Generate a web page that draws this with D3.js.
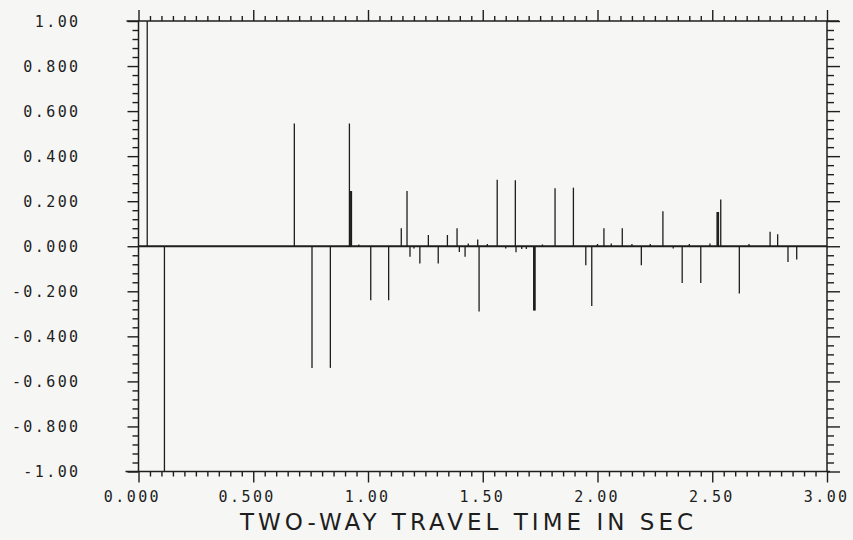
<!DOCTYPE html>
<html>
<head>
<meta charset="utf-8">
<script src="https://cdn.jsdelivr.net/npm/d3@7"></script>
<style>
  body { margin: 0; background: #f6f6f4; }
  svg { display: block; }
</style>
</head>
<body>
<svg id="chart"></svg>
<script>
// spike arrival times (sec) and reflection amplitudes
const spikeTimes = [0.038, 0.113, 0.679, 0.756, 0.836, 0.919, 0.922, 0.925, 0.928,
    1.012, 1.090, 1.145, 1.170, 1.183, 1.226, 1.263, 1.306, 1.346, 1.388, 1.398,
    1.423, 1.437, 1.478, 1.484, 1.563, 1.642, 1.645, 1.722, 1.725, 1.728, 1.815,
    1.895, 1.949, 1.975, 2.028, 2.108, 2.191, 2.285, 2.369, 2.450, 2.521, 2.524,
    2.527, 2.537, 2.618, 2.752, 2.785, 2.830, 2.868];
const spikeAmps = [1.00, -1.00, 0.545, -0.540, -0.540, 0.545, 0.245, 0.245, 0.245,
    -0.240, -0.240, 0.080, 0.245, -0.047, -0.077, 0.050, -0.077, 0.050, 0.080, -0.025,
    -0.047, 0.012, 0.030, -0.290, 0.295, 0.293, -0.027, -0.285, -0.285, -0.285, 0.258,
    0.260, -0.084, -0.265, 0.080, 0.080, -0.084, 0.155, -0.163, -0.163, 0.152, 0.152,
    0.152, 0.207, -0.210, 0.064, 0.053, -0.070, -0.059];
// low-level ripple along the baseline
const rippleTimes = [0.960, 1.200, 1.520, 1.600, 1.670, 1.690, 1.760, 2.000, 2.060,
    2.150, 2.230, 2.330, 2.400, 2.490, 2.660];
const rippleAmps = [0.008, -0.010, 0.010, -0.010, -0.012, -0.012, 0.008, 0.010, 0.012,
    0.010, 0.010, -0.010, 0.010, 0.012, 0.010];

const xMajor = [0, 0.5, 1.0, 1.5, 2.0, 2.5, 3.0];
const xTickLabels = ['0.000', '0.500', '1.00', '1.50', '2.00', '2.50', '3.00'];
const yMajor = [1.0, 0.8, 0.6, 0.4, 0.2, 0, -0.2, -0.4, -0.6, -0.8, -1.0];
const yTickLabels = ['1.00', '0.800', '0.600', '0.400', '0.200', '0.000',
    '-0.200', '-0.400', '-0.600', '-0.800', '-1.00'];
const xTitle = 'TWO-WAY TRAVEL TIME IN SEC';

const width = 853, height = 540;
const margin = {top: 21, right: 26, bottom: 68.5, left: 138.5};
const ink = '#1e1e1e';

const svg = d3.select('#chart')
    .attr('width', width)
    .attr('height', height);

const x = d3.scaleLinear().domain([0, 3]).range([margin.left, width - margin.right]);
const y = d3.scaleLinear().domain([-1, 1]).range([height - margin.bottom, margin.top]);

const xMinor = d3.range(0, 3.0001, 0.05).filter(d => Math.abs(d / 0.5 - Math.round(d / 0.5)) > 1e-6);
const yMinor = d3.range(-1, 1.0001, 0.04).filter(d => Math.abs(d / 0.2 - Math.round(d / 0.2)) > 1e-6);

function styleAxis(g) {
    g.select('.domain').remove();
    g.selectAll('line').attr('stroke', ink).attr('stroke-width', 1.4);
}

// left axis
svg.append('g').attr('transform', `translate(${margin.left},0)`)
    .call(d3.axisLeft(y).tickValues(yMinor).tickSize(6).tickFormat(''))
    .call(styleAxis);
svg.append('g').attr('transform', `translate(${margin.left},0)`)
    .call(d3.axisLeft(y).tickValues(yMajor).tickSize(11).tickPadding(58)
        .tickFormat((d, i) => yTickLabels[i]))
    .call(styleAxis)
    .call(g => g.selectAll('text')
        .attr('text-anchor', 'end')
        .attr('x', -58)
        .attr('dy', '0.36em'));

// right axis
svg.append('g').attr('transform', `translate(${width - margin.right},0)`)
    .call(d3.axisRight(y).tickValues(yMinor).tickSize(7).tickFormat(''))
    .call(styleAxis);
svg.append('g').attr('transform', `translate(${width - margin.right},0)`)
    .call(d3.axisRight(y).tickValues(yMajor).tickSize(13).tickFormat(''))
    .call(styleAxis);

// top axis
svg.append('g').attr('transform', `translate(0,${margin.top})`)
    .call(d3.axisTop(x).tickValues(xMinor).tickSize(5).tickFormat(''))
    .call(styleAxis);
svg.append('g').attr('transform', `translate(0,${margin.top})`)
    .call(d3.axisTop(x).tickValues(xMajor).tickSize(11).tickFormat(''))
    .call(styleAxis);

// bottom axis
svg.append('g').attr('transform', `translate(0,${height - margin.bottom})`)
    .call(d3.axisBottom(x).tickValues(xMinor).tickSize(5).tickFormat(''))
    .call(styleAxis);
svg.append('g').attr('transform', `translate(0,${height - margin.bottom})`)
    .call(d3.axisBottom(x).tickValues(xMajor).tickSize(11).tickPadding(9)
        .tickFormat((d, i) => xTickLabels[i]))
    .call(styleAxis)
    .call(g => g.selectAll('text')
        .attr('text-anchor', 'end')
        .attr('x', 22)
        .attr('dy', '0.71em'));

svg.selectAll('.tick text')
    .attr('fill', ink)
    .style('font-family', '"DejaVu Sans Mono", monospace')
    .style('font-size', '15px')
    .style('letter-spacing', '2.4px');

// frame lines (top and bottom run a little past the left edge)
const frame = svg.append('g').attr('stroke', ink).attr('stroke-width', 1.5).attr('fill', 'none');
frame.append('line')
    .attr('x1', x(0) - 12).attr('x2', x(3) + 12)
    .attr('y1', y(1)).attr('y2', y(1));
frame.append('line')
    .attr('x1', x(0) - 13).attr('x2', x(3) + 3)
    .attr('y1', y(-1)).attr('y2', y(-1));
frame.append('line')
    .attr('x1', x(0)).attr('x2', x(0))
    .attr('y1', y(1)).attr('y2', y(-1));
frame.append('line')
    .attr('x1', x(3)).attr('x2', x(3))
    .attr('y1', y(1)).attr('y2', y(-1));

// zero baseline
svg.append('line')
    .attr('x1', x(0)).attr('x2', x(3))
    .attr('y1', y(0)).attr('y2', y(0))
    .attr('stroke', ink)
    .attr('stroke-width', 2.2);

const spikes = spikeTimes.map((t, i) => ({t: t, v: spikeAmps[i]}))
    .concat(rippleTimes.map((t, i) => ({t: t, v: rippleAmps[i]})));

svg.append('g').selectAll('line')
    .data(spikes)
    .enter()
    .append('line')
    .attr('x1', d => x(d.t)).attr('x2', d => x(d.t))
    .attr('y1', y(0)).attr('y2', d => y(d.v))
    .attr('stroke', ink)
    .attr('stroke-width', 1.3);

svg.append('text')
    .attr('x', 240)
    .attr('y', 530)
    .attr('textLength', 453)
    .attr('lengthAdjust', 'spacing')
    .attr('fill', ink)
    .style('font-family', '"DejaVu Sans", sans-serif')
    .style('font-size', '23px')
    .text(xTitle);
</script>
</body>
</html>
